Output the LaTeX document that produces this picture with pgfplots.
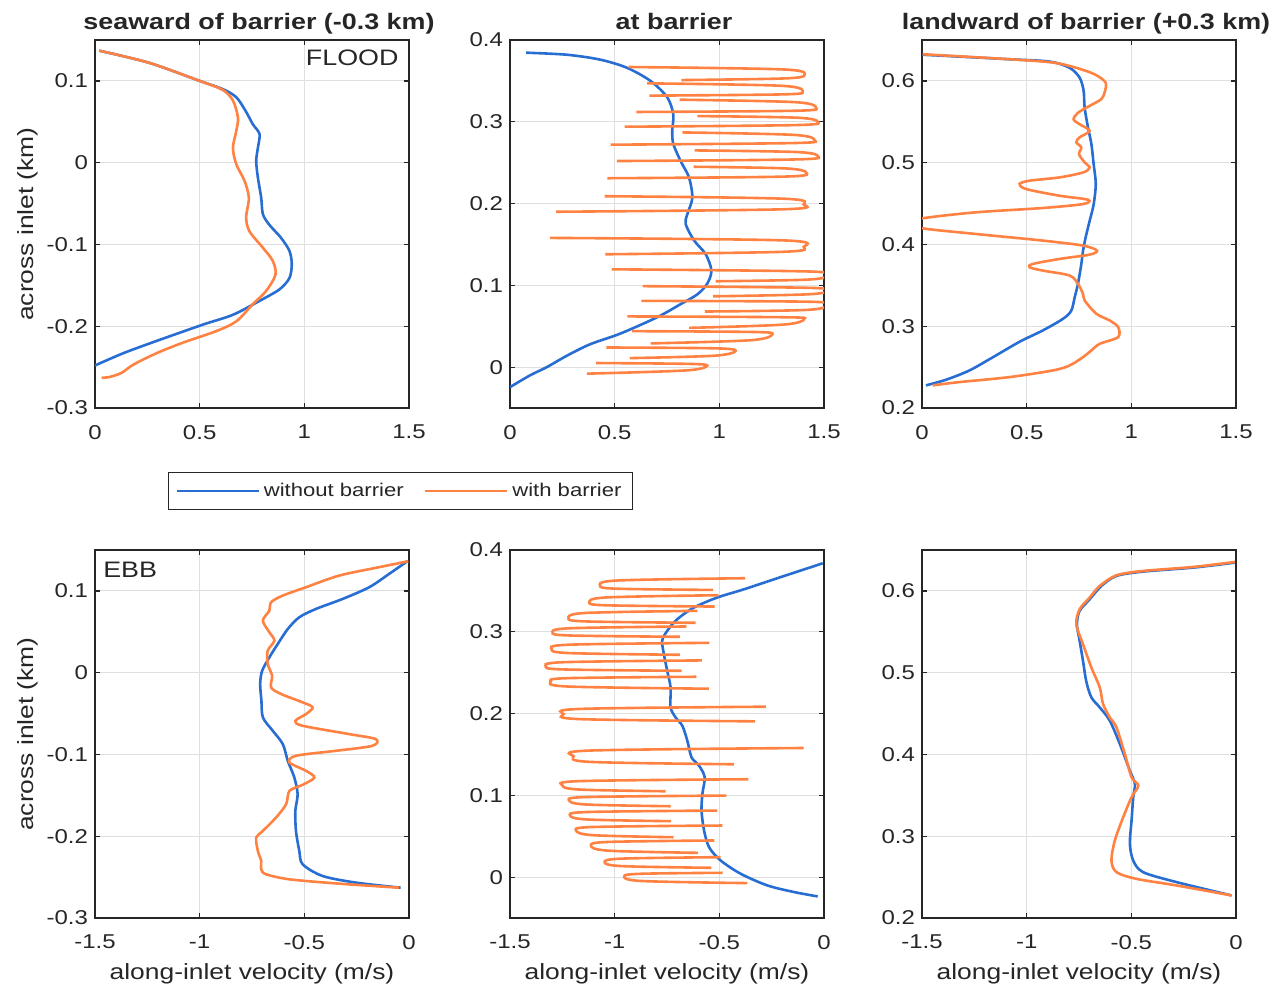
\documentclass[border=0pt]{standalone}
\usepackage{fontspec}
\setmainfont{Liberation Sans}[FakeStretch=1.2]
\usepackage{pgfplots}
\pgfplotsset{compat=1.18}
\definecolor{cblue}{RGB}{40,110,210}
\definecolor{corange}{RGB}{255,130,66}
\definecolor{txt}{RGB}{38,38,38}
\definecolor{gridc}{RGB}{223,223,223}
\pgfplotsset{
  base/.style={
    scale only axis, width=157pt, height=184pt,
    tick align=inside, major tick length=2.5pt,
    grid=major, major grid style={gridc, line width=0.5pt},
    axis line style={txt, line width=0.6pt},
    every tick/.style={txt, line width=0.6pt},
    tick label style={font=\fontsize{10}{12}\selectfont, text=txt},
    /pgf/number format/assume math mode=true,
    yticklabel style={/pgf/number format/fixed, /pgf/number format/precision=1},
    xticklabel style={/pgf/number format/fixed, /pgf/number format/precision=1, yshift=-5pt},
    label style={font=\fontsize{11}{13}\selectfont, text=txt},
    title style={font=\bfseries\fontsize{11.2}{13}\selectfont, text=txt, at={(axis description cs:0.5,1)}, anchor=base, yshift=-0.5pt, xshift=3.5pt},
    xlabel style={at={(axis description cs:0.5,0)}, anchor=base, yshift=-30.5pt},
    ylabel style={at={(axis description cs:-0.197,0.5)}, anchor=base},
    unbounded coords=jump,
  },
  top/.style={base, xmin=0, xmax=1.5, xtick={0,0.5,1,1.5}},
  bot/.style={base, xmin=-1.5, xmax=0, xtick={-1.5,-1,-0.5,0}, xlabel={along-inlet velocity (m/s)}},
  colL/.style={ymin=-0.3, ymax=0.15, ytick={-0.3,-0.2,-0.1,0,0.1}, ylabel={across inlet (km)}},
  colM/.style={ymin=-0.05, ymax=0.4, ytick={0,0.1,0.2,0.3,0.4}},
  colR/.style={ymin=0.2, ymax=0.65, ytick={0.2,0.3,0.4,0.5,0.6}},
  bl/.style={cblue, line width=1.3pt},
  orl/.style={corange, line width=1.3pt},
}
\begin{document}
\begin{tikzpicture}
% ---------------- top left
\begin{axis}[top, colL, at={(47.5pt,-204pt)}, anchor=south west,
  title={seaward of barrier (-0.3 km)},
  legend columns=2,
  legend style={at={(axis description cs:0.2317,-0.1734)}, anchor=north west, draw=txt, line width=0.5pt,
    font=\fontsize{9.2}{11}\selectfont, text=txt, inner xsep=3.5pt, inner ysep=3.2pt,
    /tikz/every even column/.append style={column sep=8pt}},
  legend image code/.code={\draw[#1] (0pt,0pt) -- (41pt,0pt);}]
\addplot[bl, smooth, tension=0.5] coordinates {(0.02,0.137)(0.26,0.122)(0.5,0.1)(0.61,0.09)(0.675,0.08)(0.72,0.063)(0.754,0.047)(0.786,0.035)(0.778,0.018)(0.77,0.002)(0.778,-0.018)(0.794,-0.043)(0.802,-0.063)(0.833,-0.076)(0.889,-0.092)(0.929,-0.108)(0.94,-0.124)(0.929,-0.141)(0.881,-0.155)(0.786,-0.169)(0.659,-0.186)(0.516,-0.198)(0.294,-0.218)(0.135,-0.233)(0,-0.248)};
\addlegendentry{without barrier}
\addplot[orl, smooth, tension=0.5] coordinates {(0.02,0.137)(0.26,0.122)(0.5,0.1)(0.61,0.089)(0.659,0.076)(0.683,0.055)(0.675,0.039)(0.659,0.018)(0.675,-0.002)(0.714,-0.022)(0.735,-0.043)(0.722,-0.067)(0.738,-0.084)(0.802,-0.104)(0.849,-0.12)(0.862,-0.137)(0.817,-0.157)(0.754,-0.173)(0.675,-0.194)(0.579,-0.206)(0.421,-0.22)(0.294,-0.233)(0.183,-0.247)(0.127,-0.257)(0.071,-0.262)(0.032,-0.263)};
\addlegendentry{with barrier}
\node[anchor=base east, inner sep=0pt, font=\fontsize{11.2}{13}\selectfont, text=txt] at (axis description cs:0.968,0.9295) {FLOOD};
\end{axis}
% ---------------- top middle
\begin{axis}[top, colM, at={(255pt,-204pt)}, anchor=south west, title={at barrier}]
\addplot[bl, smooth, tension=0.5] coordinates {(0.077,0.3845)(0.272,0.382)(0.431,0.376)(0.559,0.366)(0.671,0.35)(0.751,0.33)(0.78,0.309)(0.775,0.289)(0.78,0.273)(0.815,0.252)(0.855,0.232)(0.871,0.207)(0.847,0.187)(0.839,0.175)(0.879,0.155)(0.935,0.138)(0.962,0.118)(0.942,0.102)(0.895,0.089)(0.815,0.077)(0.703,0.061)(0.527,0.041)(0.383,0.028)(0.272,0.014)(0.176,0.0)(0.096,-0.010)(0,-0.0245)};
\addplot[orl, smooth, tension=0.55] table[row sep=\\] {x y\\
0.567 0.367\\ 1.306 0.364\\ 1.406 0.357\\ 1.306 0.353\\ 0.819 0.351\\ nan nan\\
0.655 0.347\\ 1.298 0.344\\ 1.398 0.3365\\ 1.298 0.3335\\ 0.666 0.332\\ nan nan\\
0.81 0.327\\ 1.362 0.324\\ 1.462 0.317\\ 1.362 0.3135\\ 0.604 0.312\\ nan nan\\
0.895 0.307\\ 1.37 0.305\\ 1.47 0.300\\ 1.37 0.296\\ 0.548 0.294\\ nan nan\\
0.823 0.287\\ 1.354 0.284\\ 1.454 0.2775\\ 1.354 0.274\\ 0.481 0.272\\ nan nan\\
0.882 0.265\\ 1.37 0.263\\ 1.47 0.258\\ 1.37 0.254\\ 0.51 0.252\\ nan nan\\
0.877 0.245\\ 1.314 0.243\\ 1.414 0.238\\ 1.314 0.233\\ 0.465 0.231\\ nan nan\\
0.452 0.209\\ 1.303 0.206\\ 1.403 0.199\\ 1.303 0.193\\ 0.22 0.190\\ nan nan\\
0.192 0.158\\ 1.303 0.155\\ 1.403 0.147\\ 1.303 0.141\\ 0.455 0.138\\ nan nan\\
0.486 0.1196\\ 1.42 0.117\\ 1.52 0.112\\ 1.42 0.107\\ 0.982 0.105\\ nan nan\\
0.633 0.099\\ 1.42 0.097\\ 1.52 0.0935\\ 1.42 0.089\\ 0.97 0.0866\\ nan nan\\
0.628 0.081\\ 1.42 0.080\\ 1.52 0.0764\\ 1.42 0.070\\ 0.931 0.068\\ nan nan\\
0.561 0.062\\ 1.306 0.061\\ 1.406 0.059\\ 1.306 0.052\\ 0.856 0.048\\ nan nan\\
0.583 0.044\\ 1.154 0.043\\ 1.254 0.0406\\ 1.154 0.033\\ 0.672 0.029\\ nan nan\\
0.46 0.024\\ 0.978 0.023\\ 1.078 0.020\\ 0.978 0.014\\ 0.572 0.011\\ nan nan\\
0.411 0.005\\ 0.842 0.004\\ 0.942 0.002\\ 0.842 -0.004\\ 0.367 -0.008\\
};
\end{axis}
% ---------------- top right
\begin{axis}[top, colR, at={(461pt,-204pt)}, anchor=south west, title={landward of barrier (+0.3 km)}]
\addplot[bl, smooth, tension=0.5] coordinates {(0.003,0.632)(0.418,0.6265)(0.61,0.6236)(0.705,0.616)(0.753,0.604)(0.772,0.588)(0.777,0.567)(0.793,0.543)(0.809,0.523)(0.82,0.498)(0.83,0.474)(0.82,0.449)(0.801,0.429)(0.782,0.409)(0.769,0.392)(0.761,0.376)(0.745,0.352)(0.729,0.335)(0.713,0.319)(0.673,0.309)(0.578,0.295)(0.466,0.281)(0.338,0.262)(0.227,0.246)(0.115,0.2346)(0.019,0.2277)};
\addplot[orl, smooth, tension=0.5] coordinates {(0.003,0.6326)(0.418,0.6265)(0.626,0.6224)(0.737,0.616)(0.825,0.608)(0.877,0.598)(0.872,0.5858)(0.856,0.5776)(0.801,0.5695)(0.745,0.561)(0.724,0.553)(0.753,0.547)(0.801,0.539)(0.753,0.531)(0.737,0.525)(0.761,0.5186)(0.75,0.5105)(0.777,0.5003)(0.801,0.494)(0.769,0.488)(0.657,0.482)(0.514,0.478)(0.466,0.474)(0.498,0.4677)(0.657,0.4596)(0.793,0.4547)(0.769,0.4494)(0.578,0.4446)(0.258,0.4393)(0.003,0.432)(-0.05,0.426)(0.003,0.4197)(0.258,0.4128)(0.578,0.4047)(0.769,0.3986)(0.836,0.3925)(0.801,0.3876)(0.657,0.3823)(0.53,0.3762)(0.514,0.3721)(0.578,0.368)(0.705,0.362)(0.745,0.3518)(0.769,0.3396)(0.777,0.3314)(0.833,0.3152)(0.897,0.307)(0.937,0.2989)(0.937,0.2867)(0.849,0.2785)(0.809,0.2704)(0.769,0.2622)(0.705,0.252)(0.626,0.246)(0.418,0.2378)(0.179,0.2317)(0.051,0.2277)};
\end{axis}
% ---------------- bottom left
\begin{axis}[bot, colL, at={(47.5pt,-459pt)}, anchor=south west]
\addplot[bl, smooth, tension=0.5] coordinates {(-0.008,0.1363)(-0.095,0.1208)(-0.19,0.1045)(-0.317,0.0902)(-0.444,0.078)(-0.524,0.0678)(-0.579,0.0535)(-0.627,0.0351)(-0.667,0.0188)(-0.702,0.002)(-0.711,-0.014)(-0.705,-0.034)(-0.698,-0.0547)(-0.651,-0.071)(-0.603,-0.0873)(-0.579,-0.1078)(-0.548,-0.128)(-0.532,-0.1486)(-0.543,-0.169)(-0.54,-0.1935)(-0.524,-0.218)(-0.508,-0.2343)(-0.413,-0.2486)(-0.254,-0.2567)(-0.04,-0.2629)};
\addplot[orl, smooth, tension=0.5] coordinates {(-0.003,0.1363)(-0.143,0.129)(-0.333,0.1188)(-0.492,0.1045)(-0.603,0.0943)(-0.659,0.0861)(-0.667,0.0759)(-0.698,0.0637)(-0.667,0.0494)(-0.643,0.0392)(-0.675,0.0269)(-0.675,0.0106)(-0.654,-0.0037)(-0.659,-0.018)(-0.611,-0.0261)(-0.508,-0.0363)(-0.46,-0.0424)(-0.492,-0.0506)(-0.543,-0.0588)(-0.508,-0.0649)(-0.286,-0.0751)(-0.159,-0.0812)(-0.175,-0.0894)(-0.349,-0.0955)(-0.54,-0.1016)(-0.571,-0.1098)(-0.492,-0.12)(-0.452,-0.1282)(-0.508,-0.1371)(-0.571,-0.1445)(-0.587,-0.1608)(-0.635,-0.1771)(-0.698,-0.1935)(-0.73,-0.2016)(-0.722,-0.218)(-0.706,-0.2302)(-0.706,-0.2404)(-0.683,-0.2465)(-0.571,-0.2527)(-0.333,-0.258)(-0.048,-0.2629)};
\node[anchor=base west, inner sep=0pt, font=\fontsize{11.2}{13}\selectfont, text=txt] at (axis description cs:0.025,0.9266) {EBB};
\end{axis}
% ---------------- bottom middle
\begin{axis}[bot, colM, at={(255pt,-459pt)}, anchor=south west]
\addplot[bl, smooth, tension=0.5] coordinates {(-0.006,0.3838)(-0.19,0.3683)(-0.382,0.352)(-0.51,0.3419)(-0.621,0.3297)(-0.701,0.3154)(-0.749,0.3012)(-0.773,0.289)(-0.765,0.2727)(-0.749,0.2523)(-0.733,0.232)(-0.733,0.2076)(-0.709,0.1953)(-0.677,0.1852)(-0.653,0.1669)(-0.633,0.1465)(-0.597,0.1363)(-0.57,0.1221)(-0.581,0.1018)(-0.585,0.0814)(-0.573,0.057)(-0.549,0.0366)(-0.494,0.0204)(-0.398,0.0041)(-0.27,-0.0102)(-0.142,-0.0183)(-0.03,-0.0236)};
\addplot[orl, smooth, tension=0.55] table[row sep=\\] {x y\\
-0.377 0.3655\\ -0.989 0.3627\\ -1.069 0.3561\\ -0.989 0.3527\\ -0.53 0.3512\\ nan nan\\
-0.505 0.3447\\ -1.04 0.342\\ -1.12 0.3358\\ -1.04 0.3324\\ -0.522 0.3309\\ nan nan\\
-0.605 0.3256\\ -1.14 0.323\\ -1.22 0.3166\\ -1.14 0.3127\\ -0.613 0.311\\ nan nan\\
-0.658 0.3065\\ -1.216 0.3043\\ -1.296 0.2991\\ -1.216 0.2955\\ -0.688 0.2939\\ nan nan\\
-0.548 0.2865\\ -1.22 0.2842\\ -1.30 0.2788\\ -1.22 0.274\\ -0.688 0.2719\\ nan nan\\
-0.583 0.265\\ -1.247 0.2628\\ -1.327 0.2576\\ -1.247 0.254\\ -0.68 0.2523\\ nan nan\\
-0.61 0.245\\ -1.225 0.2433\\ -1.305 0.2393\\ -1.225 0.2331\\ -0.55 0.2304\\ nan nan\\
-0.278 0.2084\\ -1.164 0.2057\\ -1.244 0.1994\\ -1.164 0.1932\\ -0.329 0.1905\\ nan nan\\
-0.097 0.1579\\ -1.116 0.1548\\ -1.196 0.1477\\ -1.116 0.1409\\ -0.43 0.138\\ nan nan\\
-0.361 0.1197\\ -1.168 0.1174\\ -1.248 0.1119\\ -1.168 0.1071\\ -0.757 0.105\\ nan nan\\
-0.466 0.0997\\ -1.136 0.0979\\ -1.216 0.0936\\ -1.136 0.0888\\ -0.733 0.0867\\ nan nan\\
-0.51 0.0814\\ -1.132 0.0796\\ -1.212 0.0753\\ -1.132 0.0705\\ -0.73 0.0684\\ nan nan\\
-0.486 0.0631\\ -1.104 0.0613\\ -1.184 0.057\\ -1.104 0.0513\\ -0.719 0.0488\\ nan nan\\
-0.524 0.0448\\ -1.033 0.043\\ -1.113 0.0387\\ -1.033 0.0324\\ -0.602 0.0297\\ nan nan\\
-0.494 0.0244\\ -0.968 0.0226\\ -1.048 0.0183\\ -0.968 0.0135\\ -0.538 0.0114\\ nan nan\\
-0.484 0.0053\\ -0.874 0.0041\\ -0.954 0.0012\\ -0.874 -0.0047\\ -0.366 -0.0073\\
};
\end{axis}
% ---------------- bottom right
\begin{axis}[bot, colR, at={(461pt,-459pt)}, anchor=south west]
\addplot[bl, smooth, tension=0.5] coordinates {(-0.005,0.6346)(-0.204,0.6285)(-0.444,0.6236)(-0.571,0.6183)(-0.643,0.6061)(-0.699,0.5898)(-0.747,0.5756)(-0.76,0.5593)(-0.747,0.539)(-0.731,0.5145)(-0.715,0.489)(-0.691,0.4698)(-0.651,0.4576)(-0.603,0.4413)(-0.555,0.4128)(-0.507,0.3802)(-0.483,0.3639)(-0.491,0.3477)(-0.499,0.3192)(-0.507,0.2907)(-0.491,0.2703)(-0.444,0.2561)(-0.284,0.2439)(-0.021,0.2276)};
\addplot[orl, smooth, tension=0.5] coordinates {(-0.005,0.6354)(-0.204,0.6293)(-0.444,0.6244)(-0.571,0.6191)(-0.651,0.6061)(-0.699,0.5919)(-0.747,0.5776)(-0.763,0.5593)(-0.731,0.5349)(-0.691,0.5064)(-0.651,0.482)(-0.635,0.4616)(-0.603,0.4453)(-0.571,0.4331)(-0.531,0.4006)(-0.499,0.3721)(-0.467,0.3619)(-0.499,0.3477)(-0.539,0.3232)(-0.579,0.2947)(-0.595,0.2703)(-0.571,0.2561)(-0.476,0.2479)(-0.284,0.2398)(-0.021,0.2276)};
\end{axis}
\pgfresetboundingbox
\useasboundingbox (0pt,0pt) rectangle (636.5pt,-495.5pt);
\end{tikzpicture}
\end{document}
